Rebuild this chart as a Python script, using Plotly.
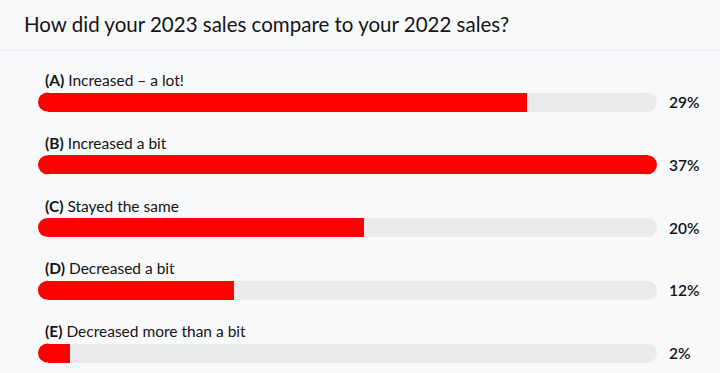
import plotly.graph_objects as go

title_text = "How did your 2023 sales compare to your 2022 sales?"
letters = ["(A)", "(B)", "(C)", "(D)", "(E)"]
answers = ["Increased – a lot!", "Increased a bit", "Stayed the same",
           "Decreased a bit", "Decreased more than a bit"]
values = [29.2, 37.0, 19.5, 11.7, 1.9]
value_labels = ["29%", "37%", "20%", "12%", "2%"]

W, H = 720, 373
L, R, T, B = 38, 63, 60, 0
PW, PH = W - L - R, H - T - B
vmax = max(values)
n = len(values)

px_per_unit = 62.75
first_center = 102
y_top = 0 - (first_center - T) / px_per_unit
y_bot = (n - 1) + (H - B - (first_center + (n - 1) * px_per_unit)) / px_per_unit

ys = list(range(n))
bar_px = 19
bw = bar_px / px_per_unit
rad = (bar_px / 2) / PW * vmax          # end-cap radius in data units
track = "#ebebeb"
red = "#ff0000"
fontfam = "Lato, 'Source Sans Pro', sans-serif"
ink = "#141414"

fig = go.Figure()
# grey track body
fig.add_trace(go.Bar(y=ys, x=[vmax - 2 * rad] * n, base=[rad] * n, orientation="h",
                     width=bw, marker=dict(color=track, line_width=0),
                     hoverinfo="skip", showlegend=False))
# red fill body
ends = [v - rad if v >= vmax else v for v in values]
fig.add_trace(go.Bar(y=ys, x=[e - rad for e in ends], base=[rad] * n, orientation="h",
                     width=bw, marker=dict(color=red, line_width=0),
                     hoverinfo="skip", showlegend=False))
# grey right caps where the fill does not reach the end
notfull = [i for i, v in enumerate(values) if v < vmax]
fig.add_trace(go.Scatter(x=[vmax - rad] * len(notfull), y=[ys[i] for i in notfull],
                         mode="markers",
                         marker=dict(color=track, size=bar_px, line_width=0),
                         cliponaxis=False, hoverinfo="skip", showlegend=False))
# red caps: left end always, right end for full bars
full = [i for i, v in enumerate(values) if v >= vmax]
cap_x = [rad] * n + [values[i] - rad for i in full]
cap_y = ys + [ys[i] for i in full]
fig.add_trace(go.Scatter(x=cap_x, y=cap_y, mode="markers",
                         marker=dict(color=red, size=bar_px, line_width=0),
                         cliponaxis=False, hoverinfo="skip", showlegend=False))

anns = []
for i in range(n):
    anns.append(dict(xref="paper", yref="y", x=5 / PW, y=ys[i] - 22 / px_per_unit,
                     text=f"<b>{letters[i]}</b> {answers[i]}", showarrow=False,
                     xanchor="left", yanchor="middle",
                     font=dict(family=fontfam, size=15.5, color=ink)))
    anns.append(dict(xref="paper", yref="y", x=1 + 10 / PW, y=ys[i],
                     text=value_labels[i], showarrow=False,
                     xanchor="left", yanchor="middle",
                     font=dict(family=fontfam, size=15.5, color=ink, weight=600)))
anns.append(dict(xref="paper", yref="paper", x=(22 - L) / PW, y=1 + (T - 24) / PH,
                 text=title_text, showarrow=False, xanchor="left", yanchor="middle",
                 font=dict(family=fontfam, size=20.5, color=ink)))

fig.update_layout(
    width=W, height=H, margin=dict(l=L, r=R, t=T, b=B),
    paper_bgcolor="#f8f9fb", plot_bgcolor="#f8f9fb",
    barmode="overlay", bargap=0,
    xaxis=dict(range=[0, vmax], visible=False, fixedrange=True),
    yaxis=dict(range=[y_bot, y_top], visible=False, fixedrange=True),
    annotations=anns,
    shapes=[dict(type="line", xref="paper", yref="paper",
                 x0=-L / PW, x1=1 + R / PW, y0=1 + (T - 50) / PH, y1=1 + (T - 50) / PH,
                 line=dict(color="#e6e8eb", width=1))],
    showlegend=False,
)
fig.write_html("out.html", config={"displayModeBar": False},
               post_script="document.body.style.margin='0';document.body.style.background='#f8f9fb';")
